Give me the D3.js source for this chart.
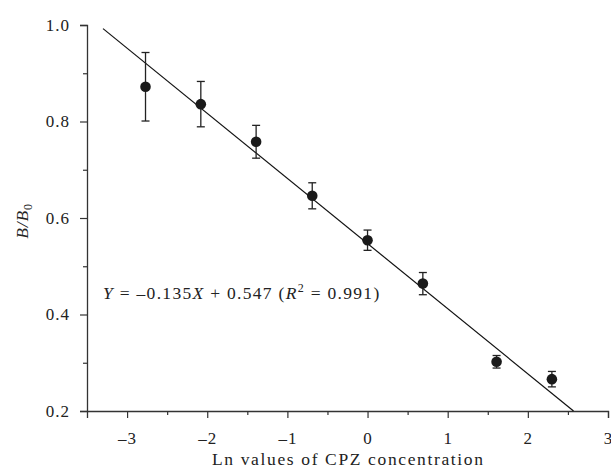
<!DOCTYPE html>
<html>
<head>
<meta charset="utf-8">
<script src="https://cdn.jsdelivr.net/npm/d3@7"></script>
<style>
  body { margin: 0; background: #fff; }
  text { font-family: "Liberation Serif", "DejaVu Serif", serif; fill: #222; }
</style>
</head>
<body>
<div class="canvas"></div>
<script>
// data
var lnConc = [-2.77, -2.08, -1.39, -0.69, 0, 0.69, 1.61, 2.30],
    ratio = [0.872, 0.836, 0.758, 0.646, 0.554, 0.464, 0.302, 0.266],
    errBar = [0.071, 0.047, 0.034, 0.027, 0.021, 0.023, 0.013, 0.016],
    xTicks = [-3, -2, -1, 0, 1, 2, 3],
    xMinor = [-2.5, -1.5, -0.5, 0.5, 1.5, 2.5],
    yTicks = [0.2, 0.4, 0.6, 0.8, 1.0],
    yMinor = [0.3, 0.5, 0.7, 0.9],
    fitSlope = -0.135,
    fitIntercept = 0.547,
    fitRange = [-3.3, 2.57];

var width = 611,
    height = 468,
    margin = { top: 25, right: 3, bottom: 57, left: 87 };

var svg = d3.select('.canvas').append('svg')
    .attr('width', width)
    .attr('height', height);

var x = d3.scaleLinear().domain([-3.5, 3]).range([margin.left, width - margin.right]),
    y = d3.scaleLinear().domain([0.2, 1.0]).range([height - margin.bottom, margin.top]);

var fmt = function (d) { return (d < 0 ? '\u2013' + Math.abs(d) : d); };

// x axis
var gx = svg.append('g')
    .attr('transform', 'translate(0,' + y(0.2) + ')');
gx.call(d3.axisBottom(x).tickValues(xTicks).tickSize(7).tickFormat(fmt));
gx.append('g').call(d3.axisBottom(x).tickValues(xMinor).tickSize(4).tickFormat(''))
    .select('.domain').remove();

// y axis
var gy = svg.append('g')
    .attr('transform', 'translate(' + x(-3.5) + ',0)');
gy.call(d3.axisLeft(y).tickValues(yTicks).tickSize(7).tickFormat(d3.format('.1f')));
gy.append('g').call(d3.axisLeft(y).tickValues(yMinor).tickSize(4).tickFormat(''))
    .select('.domain').remove();

svg.selectAll('.domain').attr('stroke', '#333').attr('stroke-width', 1.3);
svg.selectAll('.tick line').attr('stroke', '#333').attr('stroke-width', 1.2);
svg.selectAll('.tick text')
    .style('font-family', '"Liberation Serif", serif')
    .style('font-size', '17px')
    .style('letter-spacing', '1px')
    .attr('fill', '#222');
gx.selectAll('.tick text').attr('dy', null).attr('y', 33);
gy.selectAll('.tick text').attr('x', -17);

// fit line
svg.append('line')
    .attr('x1', x(fitRange[0]))
    .attr('y1', y(fitSlope * fitRange[0] + fitIntercept))
    .attr('x2', x(fitRange[1]))
    .attr('y2', y(fitSlope * fitRange[1] + fitIntercept))
    .attr('stroke', '#111')
    .attr('stroke-width', 1.2);

var data = lnConc.map(function (d, i) {
    return { x: d, y: ratio[i], e: errBar[i] };
});

// error bars
var bars = svg.append('g').attr('stroke', '#222').attr('stroke-width', 1.3);
bars.selectAll('line.v').data(data).enter().append('line')
    .attr('class', 'v')
    .attr('x1', function (d) { return x(d.x); })
    .attr('x2', function (d) { return x(d.x); })
    .attr('y1', function (d) { return y(d.y + d.e); })
    .attr('y2', function (d) { return y(d.y - d.e); });
[1, -1].forEach(function (s) {
    bars.selectAll('line.c' + s).data(data).enter().append('line')
        .attr('x1', function (d) { return x(d.x) - 4; })
        .attr('x2', function (d) { return x(d.x) + 4; })
        .attr('y1', function (d) { return y(d.y + s * d.e); })
        .attr('y2', function (d) { return y(d.y + s * d.e); });
});

// points
svg.selectAll('circle').data(data).enter().append('circle')
    .attr('cx', function (d) { return x(d.x); })
    .attr('cy', function (d) { return y(d.y); })
    .attr('r', 5.3)
    .attr('fill', '#1a1a1a');

// equation
var eq = svg.append('text')
    .attr('x', 103)
    .attr('y', 299)
    .style('font-size', '17.5px')
    .style('letter-spacing', '1.3px');
eq.append('tspan').style('font-style', 'italic').text('Y');
eq.append('tspan').text(' = \u20130.135');
eq.append('tspan').style('font-style', 'italic').text('X');
eq.append('tspan').text(' + 0.547 (');
eq.append('tspan').style('font-style', 'italic').text('R');
eq.append('tspan').attr('dy', -7).style('font-size', '12px').text('2');
eq.append('tspan').attr('dy', 7).text(' = 0.991)');

// axis titles
svg.append('text')
    .attr('x', 212)
    .attr('y', 465)
    .attr('textLength', 271)
    .attr('lengthAdjust', 'spacing')
    .style('font-size', '17.5px')
    .text('Ln values of CPZ concentration');

var yl = svg.append('text')
    .attr('transform', 'translate(28,221) rotate(-90)')
    .attr('text-anchor', 'middle')
    .style('font-size', '17.5px')
    .style('letter-spacing', '0.8px');
yl.append('tspan').style('font-style', 'italic').text('B/B');
yl.append('tspan').attr('dy', 4).style('font-size', '12px').text('0');
</script>
</body>
</html>
